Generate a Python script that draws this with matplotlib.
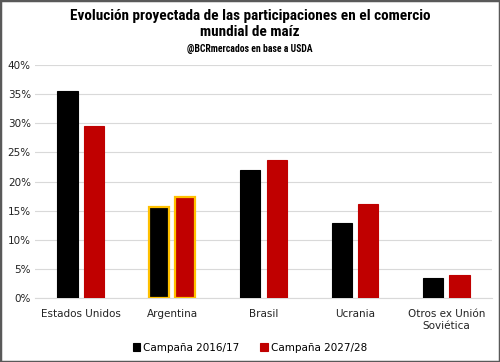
import numpy as np
import matplotlib
matplotlib.use('Agg')
import matplotlib.pyplot as plt
from matplotlib.patches import Rectangle

categorias = ['Estados Unidos', 'Argentina', 'Brasil', 'Ucrania', 'Otros ex Unión\nSoviética']
c1617 = [35.5, 15.6, 22.0, 12.9, 3.4]
c2728 = [29.5, 17.3, 23.7, 16.1, 4.0]
ticks = [0, 5, 10, 15, 20, 25, 30, 35, 40]

plt.rcParams['font.family'] = ['DejaVu Sans']
titulo_font = ['Roboto Condensed', 'Roboto', 'DejaVu Sans']

fig = plt.figure(figsize=(5, 3.62), dpi=100)
ax = fig.add_axes([0.07, 0.177, 0.914, 0.643])

x = np.arange(len(categorias))
w = 0.22
edge1 = ['#FFC000' if c == 'Argentina' else 'black' for c in categorias]
edge2 = ['#FFC000' if c == 'Argentina' else '#C00000' for c in categorias]
lw = [1.6 if c == 'Argentina' else 0.8 for c in categorias]
ax.bar(x - 0.145, c1617, w, color='black', edgecolor=edge1, linewidth=lw, label='Campaña 2016/17', zorder=3)
ax.bar(x + 0.145, c2728, w, color='#C00000', edgecolor=edge2, linewidth=lw, label='Campaña 2027/28', zorder=3)

ax.set_xlim(-0.5, len(categorias) - 0.5)
ax.set_ylim(0, 40)
ax.set_yticks(ticks)
ax.set_yticklabels([f'{t}%' for t in ticks], fontsize=7.5, color='#222222')
ax.set_xticks(x)
ax.set_xticklabels(categorias, fontsize=7.5, color='#222222')
ax.tick_params(axis='x', length=0, pad=8)
ax.tick_params(axis='y', length=0, pad=3)
ax.grid(axis='y', color='#D9D9D9', linewidth=0.8, zorder=0)
for s in ax.spines.values():
    s.set_visible(False)
ax.spines['bottom'].set_visible(True)
ax.spines['bottom'].set_color('#D9D9D9')

fig.text(0.5, 0.975, 'Evolución proyectada de las participaciones en el comercio\nmundial de maíz',
         ha='center', va='top', fontsize=11, fontweight='bold',
         family=titulo_font, linespacing=1.2)
fig.text(0.5, 0.878, '@BCRmercados en base a USDA', ha='center', va='top', fontsize=7,
         fontweight='bold', family=titulo_font)

fig.legend(loc='lower center', ncol=2, frameon=False, fontsize=7.5, handlelength=0.7,
           handleheight=0.7, handletextpad=0.3, columnspacing=2.0, bbox_to_anchor=(0.5, 0.0))

fig.patches.append(Rectangle((0, 0), 1, 1, transform=fig.transFigure, fill=False,
                             edgecolor='#595959', linewidth=2.5))

fig.savefig('out.png', dpi=100)
